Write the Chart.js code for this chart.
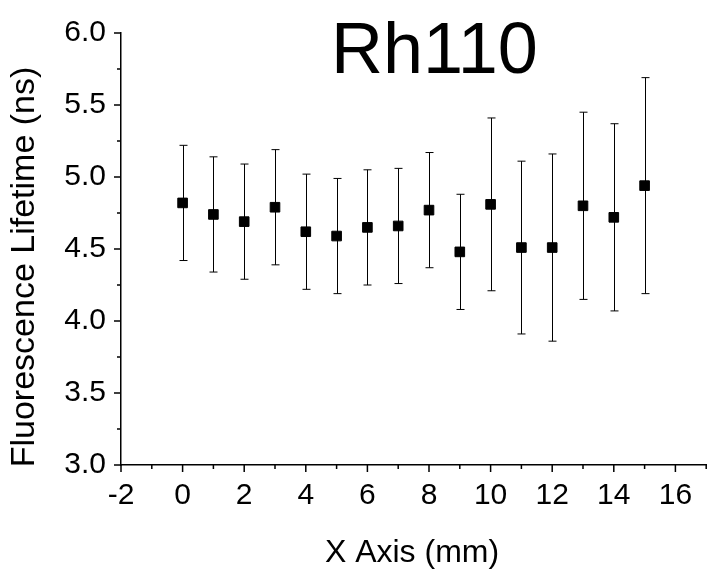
<!DOCTYPE html>
<html>
<head>
<meta charset="utf-8">
<script src="https://cdn.jsdelivr.net/npm/chart.js@4/dist/chart.umd.min.js"></script>
<style>
    html, body { margin: 0; padding: 0; background: #fff; }
    #wrap { width: 714px; height: 570px; position: relative; }
</style>
</head>
<body>
<div id="wrap"><canvas id="chart"></canvas></div>
<script>
// Data
const positions = [0, 1, 2, 3, 4, 5, 6, 7, 8, 9, 10, 11, 12, 13, 14, 15];
const lifetimes = [4.82, 4.74, 4.69, 4.79, 4.62, 4.59, 4.65, 4.66, 4.77, 4.48, 4.81, 4.51, 4.51, 4.80, 4.72, 4.94];
const errors    = [0.40, 0.40, 0.40, 0.40, 0.40, 0.40, 0.40, 0.40, 0.40, 0.40, 0.60, 0.60, 0.65, 0.65, 0.65, 0.75];

const xMajorTicks = [-2, 0, 2, 4, 6, 8, 10, 12, 14, 16];
const xMinorTicks = [-1, 1, 3, 5, 7, 9, 11, 13, 15, 17];
const yMajorTicks = [3.0, 3.5, 4.0, 4.5, 5.0, 5.5, 6.0];
const yMinorTicks = [3.25, 3.75, 4.25, 4.75, 5.25, 5.75];

const TITLE = 'Rh110';
const X_TITLE = 'X Axis (mm)';
const Y_TITLE = 'Fluorescence Lifetime (ns)';
const FONT = "'Liberation Sans', Arial, sans-serif";


//////////////////////////////
//         Plugins          //
//////////////////////////////
const errorBars = {
    id: 'errorBars',
    beforeDatasetsDraw(chart) {
        const {ctx, scales: {x, y}} = chart;
        ctx.save();
        ctx.strokeStyle = '#000';
        ctx.lineWidth = 1;
        for (let i = 0; i < positions.length; i++) {
            const px = Math.round(x.getPixelForValue(positions[i])) + 0.5;
            const top = y.getPixelForValue(lifetimes[i] + errors[i]);
            const bottom = y.getPixelForValue(lifetimes[i] - errors[i]);
            ctx.beginPath();
            ctx.moveTo(px, top);
            ctx.lineTo(px, bottom);
            ctx.moveTo(px - 4, top);
            ctx.lineTo(px + 4, top);
            ctx.moveTo(px - 4, bottom);
            ctx.lineTo(px + 4, bottom);
            ctx.stroke();
        }
        ctx.restore();
    }
};

const tickMarks = {
    id: 'tickMarks',
    afterDraw(chart) {
        const {ctx, chartArea, scales: {x, y}} = chart;
        ctx.save();
        ctx.strokeStyle = '#000';
        ctx.lineWidth = 1.5;
        ctx.beginPath();
        const tickX = (v, len) => {
            const px = x.getPixelForValue(v);
            ctx.moveTo(px, chartArea.bottom);
            ctx.lineTo(px, chartArea.bottom + len);
        };
        const tickY = (v, len) => {
            const py = y.getPixelForValue(v);
            ctx.moveTo(chartArea.left, py);
            ctx.lineTo(chartArea.left - len, py);
        };
        xMajorTicks.forEach((v) => tickX(v, 7));
        xMinorTicks.forEach((v) => tickX(v, 4));
        yMajorTicks.forEach((v) => tickY(v, 7));
        yMinorTicks.forEach((v) => tickY(v, 4));
        ctx.stroke();
        ctx.restore();
    }
};

const titles = {
    id: 'titles',
    afterDraw(chart) {
        const {ctx} = chart;
        ctx.save();
        ctx.fillStyle = '#000';
        ctx.textBaseline = 'alphabetic';

        // Big title inside the plot
        ctx.font = `72px ${FONT}`;
        ctx.textAlign = 'left';
        ctx.fillText(TITLE, 331, 73);

        // Axis titles
        ctx.font = `32px ${FONT}`;
        ctx.textAlign = 'center';
        ctx.fillText(X_TITLE, 412, 562);

        ctx.font = `34px ${FONT}`;
        ctx.translate(34, 267);
        ctx.rotate(-Math.PI / 2);
        ctx.fillText(Y_TITLE, 0, 0);
        ctx.restore();
    }
};


//////////////////////////////
//          Chart           //
//////////////////////////////
const config = {
    type: 'scatter',
    data: {
        datasets: [{
            data: positions.map((p, i) => ({x: p, y: lifetimes[i]})),
            pointStyle: 'rect',
            pointRadius: 6.8,
            pointHoverRadius: 6.8,
            backgroundColor: '#000',
            borderColor: '#000',
            borderWidth: 1
        }]
    },
    options: {
        responsive: true,
        maintainAspectRatio: false,
        animation: false,
        events: [],
        layout: {
            padding: {top: 30, right: 0, left: 0, bottom: 0}
        },
        scales: {
            x: {
                type: 'linear',
                min: -2,
                max: 17,
                afterBuildTicks: (scale) => {
                    scale.ticks = xMajorTicks.map((v) => ({value: v}));
                },
                afterFit: (scale) => { scale.height = 105; },
                grid: {display: false, drawTicks: false},
                border: {display: true, color: '#000', width: 1.5},
                ticks: {
                    color: '#000',
                    font: {family: FONT, size: 30},
                    padding: 13,
                    maxRotation: 0,
                    autoSkip: false,
                    callback: (v) => String(v)
                }
            },
            y: {
                type: 'linear',
                min: 3,
                max: 6,
                afterBuildTicks: (scale) => {
                    scale.ticks = yMajorTicks.map((v) => ({value: v}));
                },
                afterFit: (scale) => { scale.width = 121; },
                grid: {display: false, drawTicks: false},
                border: {display: true, color: '#000', width: 1.5},
                ticks: {
                    color: '#000',
                    font: {family: FONT, size: 30},
                    padding: 15,
                    autoSkip: false,
                    callback: (v) => Number(v).toFixed(1)
                }
            }
        },
        plugins: {
            legend: {display: false},
            tooltip: {enabled: false}
        }
    },
    plugins: [errorBars, tickMarks, titles]
};

new Chart(document.getElementById('chart'), config);
</script>
</body>
</html>
